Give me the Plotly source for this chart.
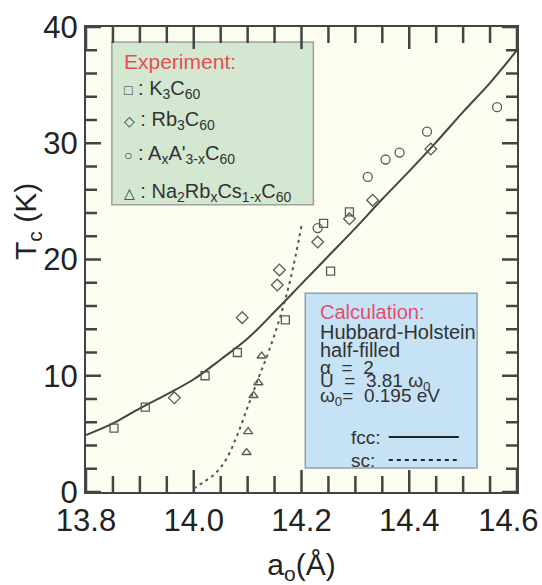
import plotly.graph_objects as go

# ---- data ----
k3_a = [13.852, 13.910, 14.021, 14.081, 14.170, 14.254, 14.241, 14.289]
k3_T = [5.5, 7.3, 10.0, 12.0, 14.8, 19.0, 23.1, 24.1]
rb3_a = [13.964, 14.090, 14.155, 14.159, 14.230, 14.289, 14.332, 14.440]
rb3_T = [8.1, 15.0, 17.8, 19.1, 21.5, 23.5, 25.1, 29.5]
aa_a = [14.230, 14.323, 14.356, 14.382, 14.433, 14.563]
aa_T = [22.7, 27.1, 28.6, 29.2, 31.0, 33.1]
na_a = [14.126, 14.120, 14.111, 14.101, 14.098]
na_T = [11.7, 9.4, 8.3, 5.2, 3.4]

fcc_a = [13.80, 13.85, 13.90, 13.95, 14.00, 14.05, 14.10, 14.15, 14.20, 14.25,
         14.30, 14.35, 14.40, 14.45, 14.50, 14.55, 14.60]
fcc_T = [4.9, 5.9, 7.2, 8.4, 9.7, 11.4, 13.2, 15.5, 17.9, 20.3,
         22.7, 25.2, 27.6, 30.1, 32.7, 35.2, 38.0]
sc_a = [14.00, 14.02, 14.04, 14.06, 14.08, 14.10, 14.12, 14.14, 14.16, 14.18, 14.20]
sc_T = [0.3, 0.9, 1.6, 2.8, 4.8, 7.3, 9.8, 12.2, 15.0, 18.4, 22.9]

x_tickvals = [13.8, 14.0, 14.2, 14.4, 14.6]
x_ticktext = ["13.8", "14.0", "14.2", "14.4", "14.6\u00a0\u00a0"]
y_tickvals = [0, 10, 20, 30, 40]

X_RANGE = [13.8, 14.6]
Y_RANGE = [0, 40]

FONT = "Liberation Sans, Arial, DejaVu Sans, sans-serif"
TXT = "#333333"
MK = "#5a5a5a"

W, H = 542, 585
ML, MR, MT, MB = 86, 25, 27, 93
pw, ph = W - ML - MR, H - MT - MB
xu = (X_RANGE[1] - X_RANGE[0]) / pw   # data units per pixel
yu = (Y_RANGE[1] - Y_RANGE[0]) / ph

fig = go.Figure()

# inside tick marks on all four sides, drawn as one line trace with gaps
tx, ty = [], []
for i in range(17):  # every 0.05 along x
    xv = X_RANGE[0] + i * 0.05
    ln = (22 if i % 4 == 0 else 16) * yu
    tx += [xv, xv, None, xv, xv, None]
    ty += [Y_RANGE[0], Y_RANGE[0] + ln, None, Y_RANGE[1], Y_RANGE[1] - ln, None]
for j in range(21):  # every 2 along y
    yv = Y_RANGE[0] + j * 2
    ln = (15 if j % 5 == 0 else 11) * xu
    tx += [X_RANGE[0], X_RANGE[0] + ln, None, X_RANGE[1], X_RANGE[1] - ln, None]
    ty += [yv, yv, None, yv, yv, None]
fig.add_trace(go.Scatter(x=tx, y=ty, mode="lines", line=dict(color="#444444", width=2.5),
                         hoverinfo="skip", connectgaps=False, cliponaxis=False))

fig.add_trace(go.Scatter(x=fcc_a, y=fcc_T, mode="lines", line_shape="spline",
                         line=dict(color="#444444", width=2), hoverinfo="skip"))
fig.add_trace(go.Scatter(x=sc_a, y=sc_T, mode="lines", line_shape="spline",
                         line=dict(color="#555555", width=2, dash="3px,4px"), hoverinfo="skip"))

def pts(a, t, sym, size):
    fig.add_trace(go.Scatter(x=a, y=t, mode="markers",
                             marker=dict(symbol=sym, size=size, color=MK,
                                         line=dict(color=MK, width=1.3))))

pts(k3_a, k3_T, "square-open", 8)
pts(rb3_a, rb3_T, "diamond-open", 9)
pts(aa_a, aa_T, "circle-open", 9)
pts(na_a, na_T, "triangle-up-open", 8)

# boxes
fig.add_shape(type="rect", xref="x", yref="y", x0=13.848, x1=14.222, y0=24.7, y1=38.7,
              fillcolor="#d3e7d1", line=dict(color="#9aa39a", width=1.5), layer="below")
fig.add_shape(type="rect", xref="x", yref="y", x0=14.207, x1=14.526, y0=2.06, y1=17.1,
              fillcolor="#c6e2f5", line=dict(color="#8fa0ad", width=1.5), layer="below")
# legend line samples
fig.add_shape(type="line", xref="x", yref="y", x0=14.362, x1=14.492, y0=4.73, y1=4.73,
              line=dict(color="#222222", width=2))
fig.add_shape(type="line", xref="x", yref="y", x0=14.362, x1=14.495, y0=2.75, y1=2.75,
              line=dict(color="#222222", width=2, dash="4px,4px"))

def ann(x, y, text, size=20, color=TXT):
    fig.add_annotation(x=x, y=y, xref="x", yref="y", text=text, showarrow=False,
                       xanchor="left", yanchor="middle",
                       font=dict(family=FONT, size=size, color=color))

ex = 13.866
ann(ex, 37.0, "Experiment:", 21, "#e35151")
sym = "<span style='font-size:14px'>%s</span> : "
ann(ex, 34.6, sym % "□" + "K<sub>3</sub>C<sub>60</sub>", 20)
ann(ex, 32.0, sym % "◇" + "Rb<sub>3</sub>C<sub>60</sub>", 20)
ann(ex, 29.0, sym % "○" + "A<sub>x</sub>A'<sub>3-x</sub>C<sub>60</sub>", 20)
ann(ex, 25.8, sym % "△" + "Na<sub>2</sub>Rb<sub>x</sub>Cs<sub>1-x</sub>C<sub>60</sub>", 20)

cx = 14.230
ann(cx, 15.5, "Calculation:", 20, "#e0506e")
ann(cx, 13.75, "Hubbard-Holstein", 20)
ann(cx, 12.2, "half-filled", 20)
ann(cx, 10.75, "α  =  2", 19)
ann(cx, 9.45, "U  =  3.81 ω<sub>0</sub>", 19)
ann(cx, 8.15, "ω<sub>0</sub>=  0.195 eV", 19)
ann(14.288, 4.73, "fcc:", 19)
ann(14.288, 2.75, "sc:", 19)

# y axis title (pixel position converted to paper coords)
fig.add_annotation(x=(28 - ML) / pw, y=(H - MB - 222) / ph, xref="paper", yref="paper",
                   xanchor="center", yanchor="middle",
                   text="T<sub>c</sub> (K)", showarrow=False, textangle=-90,
                   font=dict(family=FONT, size=30, color="#222"))

fig.update_layout(
    width=W, height=H, margin=dict(l=ML, r=MR, t=MT, b=MB, autoexpand=False),
    paper_bgcolor="white", plot_bgcolor="#fdfcf0", showlegend=False,
    xaxis=dict(range=X_RANGE, tickmode="array", tickvals=x_tickvals, ticktext=x_ticktext,
               ticks="", ticklabeloverflow="allow", automargin=False,
               showline=True, linecolor="#444444", linewidth=2, mirror=True,
               showgrid=False, zeroline=False,
               tickfont=dict(family=FONT, size=31, color="#222222"),
               title=dict(text="a<sub>o</sub>(Å)", font=dict(family=FONT, size=30, color="#222"),
                          standoff=18)),
    yaxis=dict(range=Y_RANGE, tickmode="array", tickvals=y_tickvals,
               ticks="", automargin=False,
               showline=True, linecolor="#444444", linewidth=2, mirror=True,
               showgrid=False, zeroline=False,
               tickfont=dict(family=FONT, size=31, color="#222222")),
)

fig.write_html("out.html")
